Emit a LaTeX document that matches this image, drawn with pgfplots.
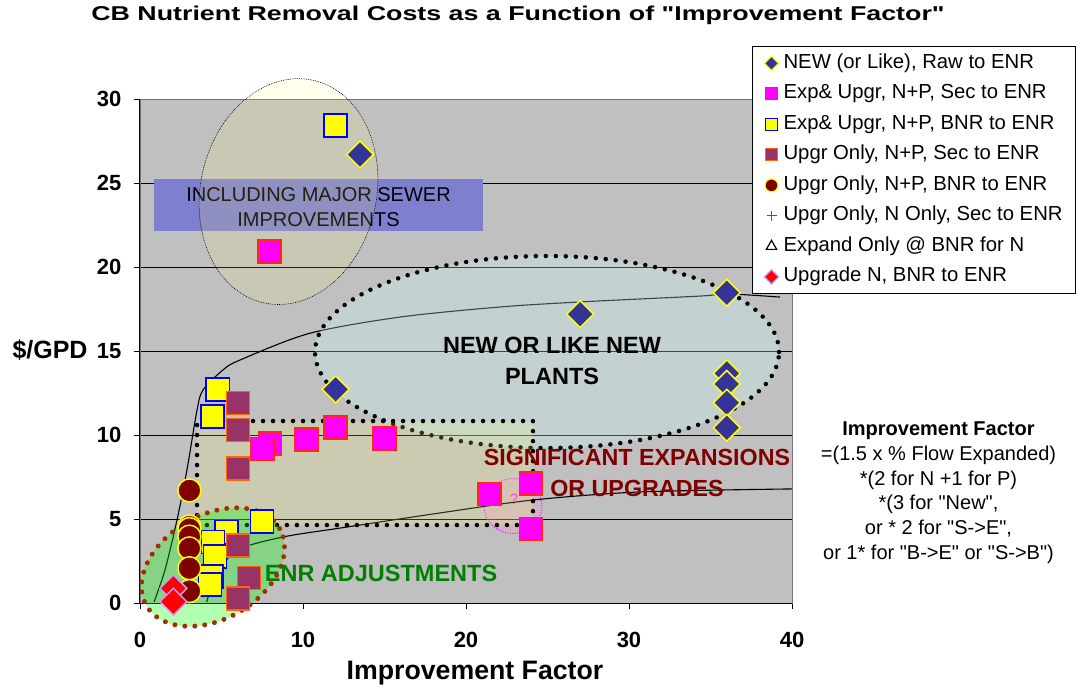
\documentclass[border=0pt]{standalone}
\usepackage{graphicx}
\usepackage{pgfplots}
\pgfplotsset{compat=1.18}
\usepackage{fontspec}
\newfontfamily\arial{Liberation Sans}
\definecolor{bggray}{RGB}{192,192,192}
\definecolor{navyd}{RGB}{51,51,153}
\definecolor{plum}{RGB}{153,51,102}
\definecolor{orng}{RGB}{255,102,0}
\definecolor{dred}{RGB}{128,0,0}
\definecolor{tealc}{RGB}{0,128,128}
\definecolor{lav}{RGB}{204,153,255}
\definecolor{blubox}{RGB}{127,127,207}
\definecolor{cyanov}{RGB}{204,255,255}
\definecolor{beigeov}{RGB}{255,255,110}
\definecolor{brownd}{RGB}{153,51,0}
\definecolor{dgreen}{RGB}{0,128,0}
\definecolor{magedge}{RGB}{255,40,20}
\definecolor{pinkov}{RGB}{255,150,210}
\definecolor{magf}{RGB}{255,0,255}
\definecolor{yelf}{RGB}{255,255,0}
\definecolor{bluf}{RGB}{0,0,255}
\definecolor{redf}{RGB}{255,0,0}
\definecolor{grnf}{RGB}{0,255,0}
\begin{document}
\arial
\begin{tikzpicture}
\useasboundingbox (-140pt,-91pt) rectangle (938pt,603pt);
\begin{axis}[
  scale only axis, width=652pt, height=504pt,
  xmin=0, xmax=40, ymin=0, ymax=30,
  xtick={0,10,20,30,40}, ytick={0,5,10,15,20,25,30},
  axis background/.style={fill=bggray},
  axis line style={draw=gray!90!black, line width=0.8pt},
  ymajorgrids, grid style={black, line width=0.7pt},
  tick align=outside, tick pos=left, major tick length=6pt,
  tick style={black, line width=0.8pt},
  /pgf/number format/assume math mode=true,
  tick label style={font=\fontsize{22}{22}\selectfont\bfseries},
  yticklabel style={xshift=-9pt},
  xticklabel style={yshift=-20pt},
  clip=false,
  title={\scalebox{1.34}[1]{CB Nutrient Removal Costs as a Function of "Improvement Factor"}},
  title style={at={(axis description cs:0.5798,1.154)}, anchor=center, font=\fontsize{20}{24}\selectfont\bfseries},
  xlabel={Improvement Factor},
  xlabel style={at={(axis description cs:0.5138,-0.1389)}, anchor=center, font=\fontsize{26.7}{30}\selectfont\bfseries},
  ylabel={\$/GPD},
  ylabel style={at={(axis description cs:-0.138,0.502)}, anchor=center, rotate=-90, font=\fontsize{25}{30}\selectfont\bfseries},
  legend style={at={(axis description cs:0.9387,1.1052)}, anchor=north west, draw=black, fill=white, line width=0.8pt,
    font=\fontsize{20.3}{22}\selectfont, inner xsep=12pt, inner ysep=7pt, row sep=10.5pt,
    nodes={inner sep=1pt, text height=14pt, text depth=4pt},
    /tikz/every odd column/.append style={column sep=4pt}},
  legend cell align=left,
]
% pink question circle (under the markers)
\draw[fill=pinkov, fill opacity=0.25, draw=magf, line width=1pt, dash pattern=on 1pt off 1.5pt]
  (axis cs:22.88,5.77) ellipse [x radius=29pt, y radius=27.5pt];
\node[text=magf!80!pink, font=\fontsize{15}{15}\selectfont] at (axis cs:22.94,6.2) {?};

% NEW (or Like), Raw to ENR
\addplot[only marks, mark=square*, mark size=9.5, mark options={rotate=45, fill=navyd, draw=yelf, line width=1.5pt}, forget plot]
coordinates {(13.5,26.7) (27.0,17.2) (36.0,18.47) (12.0,12.72) (36.0,13.67) (36.0,13.04) (36.0,11.92) (36.0,10.43)};
% Exp& Upgr, N+P, Sec to ENR
\addplot[only marks, mark=square*, mark size=11.5, mark options={fill=magf, draw=magedge, line width=1.5pt}, forget plot]
coordinates {(7.93,20.91) (7.98,9.5) (7.52,9.17) (10.23,9.72) (12.0,10.44) (15.01,9.78) (21.44,6.5) (24.0,7.11) (24.0,4.41)};
% Exp& Upgr, N+P, BNR to ENR
\addplot[only marks, mark=square*, mark size=11.5, mark options={fill=yelf, draw=bluf, line width=1.5pt}, forget plot]
coordinates {(12.0,28.43) (4.77,12.7) (4.46,11.1) (7.5,4.85) (5.32,4.24) (4.48,3.63) (4.6,2.76) (4.4,1.57) (4.3,1.1)};
% Upgr Only, N+P, Sec to ENR
\addplot[only marks, mark=square*, mark size=11.5, mark options={fill=plum, draw=orng, line width=1.5pt}, forget plot]
coordinates {(6.0,11.9) (6.0,10.3) (6.0,8.0) (6.0,3.43) (6.68,1.5) (6.0,0.27)};
% Upgr Only, N+P, BNR to ENR
\addplot[only marks, mark=*, mark size=11.5, mark options={fill=dred, draw=yelf, line width=1.5pt}, forget plot]
coordinates {(3.03,6.7) (3.03,4.55) (3.03,4.4) (3.03,3.95) (3.03,3.25) (3.03,2.07) (3.03,0.71)};
% Upgrade N, BNR to ENR
\addplot[only marks, mark=square*, mark size=9.5, mark options={rotate=45, fill=redf, draw=lav, line width=1.5pt}, forget plot]
coordinates {(2.05,0.87) (2.05,0.08)};

% trend curves
\addplot[black, line width=1.1pt, smooth, tension=0.5, forget plot] coordinates {
(0.86,0.06) (1.53,1.96) (2.27,4.94) (2.88,7.92) (3.50,11.49) (3.87,12.68) (5.09,13.87) (6.13,14.46)
(10.4,16.05) (15.95,17.02) (22.09,17.62) (26.99,17.92) (34.36,18.27) (36.0,18.4) (39.26,18.21)};
\addplot[black, line width=1.1pt, smooth, tension=0.5, forget plot] coordinates {
(4.09,0.06) (4.42,1.07) (4.79,1.79) (5.95,3.15) (8.77,3.93) (12.27,4.46) (18.40,5.36) (24.11,6.13) (30.67,6.61) (40.0,6.79)};

% left / bottom axis lines
\draw[black, line width=1pt] (axis cs:0,30) -- (axis cs:0,0) -- (axis cs:40,0);

% blue box
\fill[blubox] (axis cs:0.86,22.14) rectangle (axis cs:21.04,25.24);
\node[align=center, font=\fontsize{20}{25}\selectfont] at (axis cs:10.95,23.55) {INCLUDING MAJOR SEWER\\IMPROVEMENTS};
% top ellipse
\draw[fill=beigeov, fill opacity=0.13, draw=black, line width=0.6pt, dash pattern=on 0.8pt off 1pt, rotate around={-12.5:(axis cs:9.11,24.49)}]
  (axis cs:9.11,24.49) ellipse [x radius=88pt, y radius=114pt];
% cyan ellipse
\draw[fill=cyanov, fill opacity=0.28, draw=black, line width=4.5pt, line cap=round, dash pattern=on 0pt off 10pt]
  (axis cs:24.97,14.94) ellipse [x radius=232pt, y radius=96pt];
% beige rectangle
\draw[fill=beigeov, fill opacity=0.18, draw=black, line width=4.5pt, line cap=round, dash pattern=on 0pt off 10pt]
  (axis cs:3.50,4.64) rectangle (axis cs:24.11,10.83);
% green ellipse
\draw[fill=grnf, fill opacity=0.3, draw=brownd, line width=5pt, line cap=round, dash pattern=on 0pt off 10pt, rotate around={30:(axis cs:4.48,2.14)}]
  (axis cs:4.48,2.14) ellipse [x radius=77pt, y radius=52pt];

% labels
\node[align=center, font=\fontsize{23.5}{30.5}\selectfont\bfseries] at (axis cs:25.28,14.40) {NEW OR LIKE NEW\\PLANTS};
\node[align=center, text=dred, font=\fontsize{23.3}{31}\selectfont\bfseries] at (axis cs:30.49,7.71) {SIGNIFICANT EXPANSIONS\\OR UPGRADES};
\node[text=dgreen, font=\fontsize{23.5}{23.5}\selectfont\bfseries] at (axis cs:14.79,1.79) {ENR ADJUSTMENTS};
\node[align=center, font=\fontsize{20}{24.8}\selectfont] at (axis description cs:1.2247,0.2187)
  {\textbf{Improvement Factor}\\=(1.5 x \% Flow Expanded)\\*(2 for N +1 for P)\\*(3 for "New",\\or * 2 for "S->E",\\or 1* for "B->E" or "S->B")};

% legend
\addlegendimage{only marks, mark=square*, mark size=5, mark options={rotate=45, fill=navyd, draw=yelf, line width=1.2pt}}
\addlegendentry{NEW (or Like), Raw to ENR}
\addlegendimage{only marks, mark=square*, mark size=6, mark options={fill=magf, draw=magedge, line width=1.2pt}}
\addlegendentry{Exp\& Upgr, N+P, Sec to ENR}
\addlegendimage{only marks, mark=square*, mark size=6, mark options={fill=yelf, draw=bluf, line width=1.2pt}}
\addlegendentry{Exp\& Upgr, N+P, BNR to ENR}
\addlegendimage{only marks, mark=square*, mark size=6, mark options={fill=plum, draw=orng, line width=1.2pt}}
\addlegendentry{Upgr Only, N+P, Sec to ENR}
\addlegendimage{only marks, mark=*, mark size=6.5, mark options={fill=dred, draw=yelf, line width=1.2pt}}
\addlegendentry{Upgr Only, N+P, BNR to ENR}
\addlegendimage{only marks, mark=+, mark size=5, mark options={draw=tealc, line width=1.2pt}}
\addlegendentry{Upgr Only, N Only, Sec to ENR}
\addlegendimage{only marks, mark=triangle, mark size=6, mark options={draw=black, line width=1.2pt}}
\addlegendentry{Expand Only @ BNR for N}
\addlegendimage{only marks, mark=square*, mark size=5, mark options={rotate=45, fill=redf, draw=lav, line width=1.2pt}}
\addlegendentry{Upgrade N, BNR to ENR}
\end{axis}
\end{tikzpicture}
\end{document}
